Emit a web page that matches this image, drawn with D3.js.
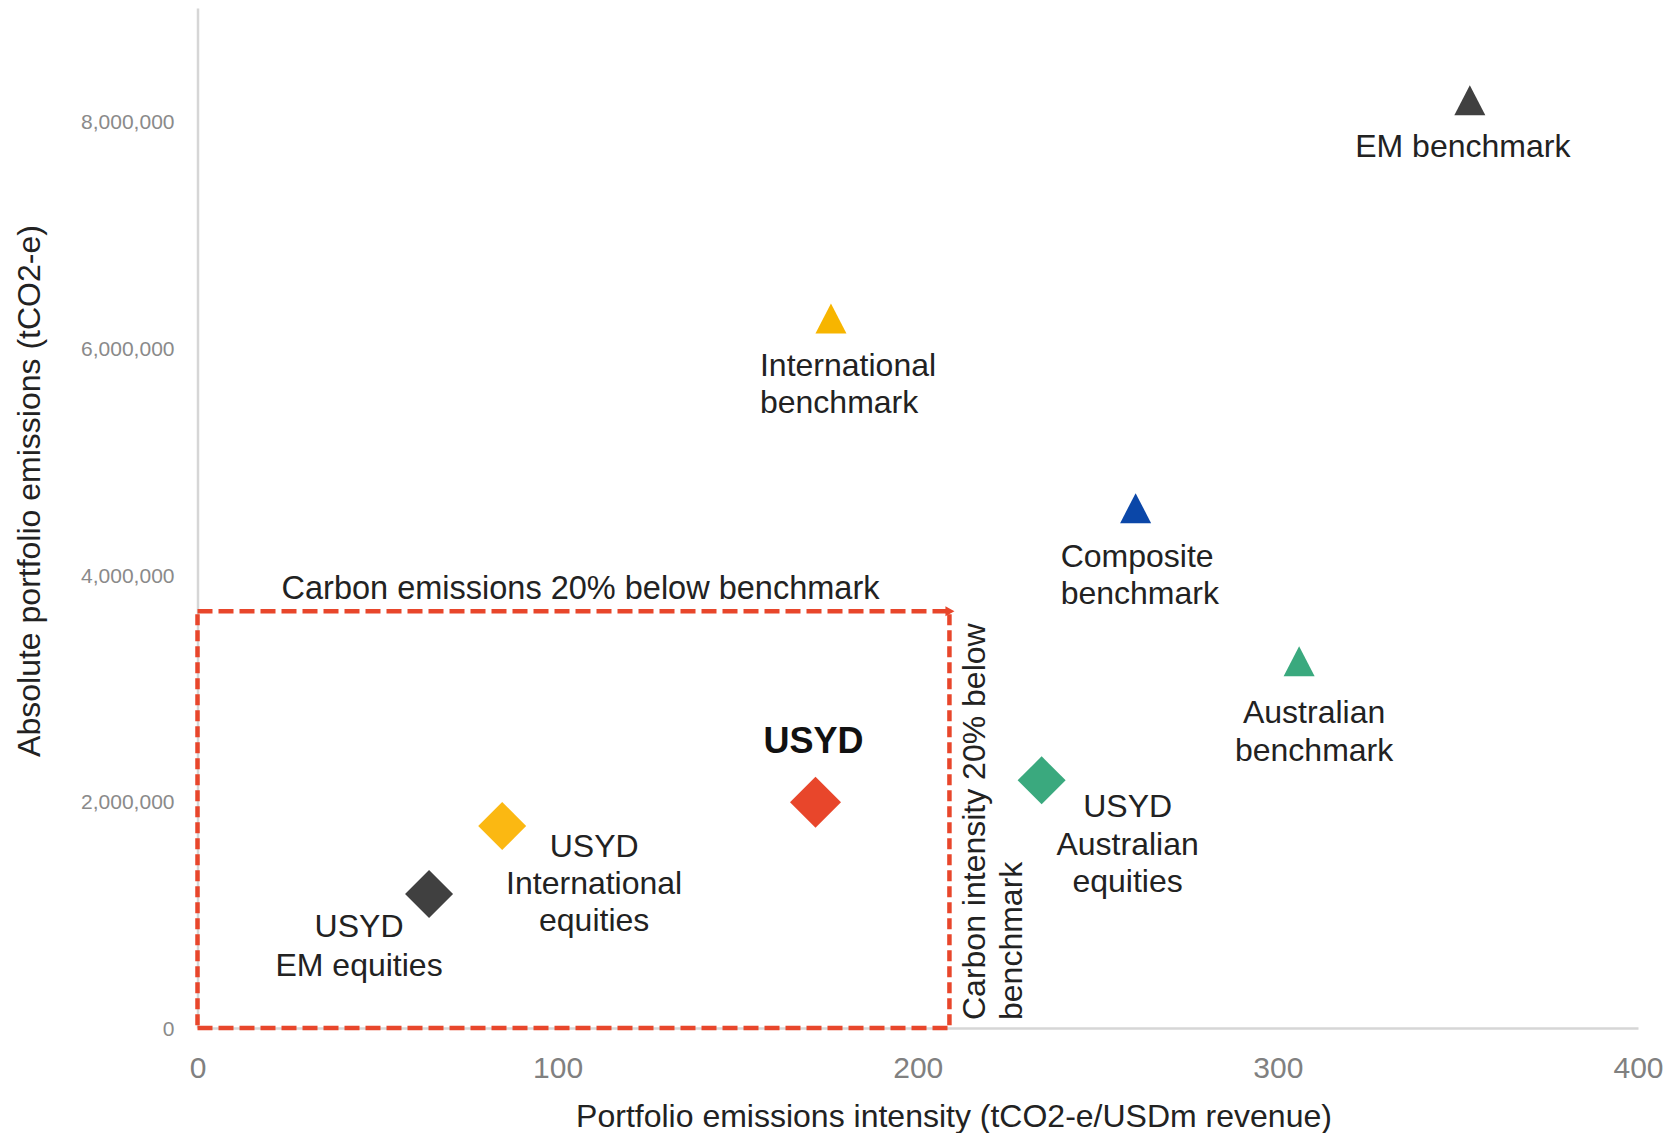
<!DOCTYPE html>
<html>
<head>
<meta charset="utf-8">
<script src="https://cdn.jsdelivr.net/npm/d3@7/dist/d3.min.js"></script>
<style>
  html, body { margin: 0; padding: 0; background: #ffffff; }
  svg { display: block; font-family: "Liberation Sans", Arial, Helvetica, sans-serif; }
</style>
</head>
<body>
<svg id="chart" width="1669" height="1133"></svg>
<script>
// ---------------- DATA ----------------
const categories = [
  "EM benchmark",
  "International benchmark",
  "Composite benchmark",
  "Australian benchmark",
  "USYD Australian equities",
  "USYD",
  "USYD International equities",
  "USYD EM equities"
];
const intensity = [353.3, 175.9, 260.5, 305.9, 234.4, 171.6, 84.6, 64.3];            // tCO2-e/USDm revenue
const emissions = [8185000, 6260000, 4587000, 3237000, 2185000, 1993000, 1782000, 1182000]; // tCO2-e
const seriesKind = ["benchmark", "benchmark", "benchmark", "benchmark", "portfolio", "total", "portfolio", "portfolio"];
const labelLines = [
  ["EM benchmark"],
  ["International", "benchmark"],
  ["Composite", "benchmark"],
  ["Australian", "benchmark"],
  ["USYD", "Australian", "equities"],
  ["USYD"],
  ["USYD", "International", "equities"],
  ["USYD", "EM equities"]
];
const xTicks = [0, 100, 200, 300, 400];
const yTicks = [0, 2000000, 4000000, 6000000, 8000000];
const targetIntensity = 208.8;   // 20% below composite benchmark intensity
const targetEmissions = 3678000; // 20% below composite benchmark emissions
const xTitle = "Portfolio emissions intensity (tCO2-e/USDm revenue)";
const yTitle = "Absolute portfolio emissions (tCO2-e)";
const boxTopLabel = "Carbon emissions 20% below benchmark";
const boxSideLabel = ["Carbon intensity 20% below", "benchmark"];

// ---------------- STYLE / LAYOUT ----------------
const colors = {
  "EM benchmark": "#404040",
  "International benchmark": "#F7B500",
  "Composite benchmark": "#0B47A8",
  "Australian benchmark": "#3AA97E",
  "USYD Australian equities": "#3AA97E",
  "USYD": "#E8462B",
  "USYD International equities": "#FBB812",
  "USYD EM equities": "#404040"
};
// label layout: anchor, dx, dy (first baseline) relative to marker, line height
const labelLayout = {
  "EM benchmark": {anchor: "middle", dx: -7, dy: 57, lh: 36},
  "International benchmark": {anchor: "start", dx: -71, dy: 57, lh: 37},
  "Composite benchmark": {anchor: "start", dx: -75, dy: 59, lh: 37},
  "Australian benchmark": {anchor: "middle", dx: 15, dy: 62, lh: 38},
  "USYD Australian equities": {anchor: "middle", dx: 86, dy: 37, lh: 37.5},
  "USYD": {anchor: "middle", dx: -2, dy: -49, lh: 36},
  "USYD International equities": {anchor: "middle", dx: 92, dy: 31, lh: 37},
  "USYD EM equities": {anchor: "middle", dx: -70, dy: 43, lh: 39}
};

const W = 1669, H = 1133;
const x = d3.scaleLinear().domain([0, 400]).range([197.5, 1638]);
const y = d3.scaleLinear().domain([0, 9000000]).range([1028, 8]);

const svg = d3.select("#chart");
svg.append("rect").attr("width", W).attr("height", H).attr("fill", "#ffffff");

// ---------------- AXES ----------------
const axisColor = "#d6d6d6";
const xAxis = d3.axisBottom(x).tickValues(xTicks).tickSize(0).tickPadding(0).tickFormat(d3.format("d"));
const gx = svg.append("g").attr("transform", `translate(0,${y(0)})`).call(xAxis);
gx.select(".domain").attr("stroke", axisColor).attr("stroke-width", 2.5);
gx.selectAll(".tick text")
  .attr("y", 50).attr("dy", 0)
  .attr("font-size", 30).attr("fill", "#808080")
  .attr("font-family", "Liberation Sans, Arial, sans-serif");

const yAxis = d3.axisLeft(y).tickValues(yTicks).tickSize(0).tickPadding(0).tickFormat(d3.format(","));
const gy = svg.append("g").attr("transform", `translate(${x(0)},0)`).call(yAxis);
gy.select(".domain").attr("stroke", axisColor).attr("stroke-width", 2.5);
gy.selectAll(".tick text")
  .attr("x", -23).attr("dy", "0.36em")
  .attr("font-size", 21).attr("fill", "#8a8a8a")
  .attr("font-family", "Liberation Sans, Arial, sans-serif");

// axis titles
svg.append("text")
  .attr("x", 954).attr("y", 1127)
  .attr("text-anchor", "middle")
  .attr("font-size", 32).attr("fill", "#222")
  .text(xTitle);
svg.append("text")
  .attr("transform", `translate(40,491) rotate(-90)`)
  .attr("text-anchor", "middle")
  .attr("font-size", 32).attr("fill", "#222")
  .text(yTitle);

// ---------------- TARGET BOX ----------------
const red = "#E8462B";
const bx0 = x(0), bx1 = x(targetIntensity), by0 = y(0), by1 = y(targetEmissions);
const box = svg.append("g").attr("fill", "none").attr("stroke", red).attr("stroke-width", 4.5);
box.append("line").attr("x1", bx0).attr("y1", by1).attr("x2", bx1 - 2).attr("y2", by1).attr("stroke-dasharray", "15,6");
box.append("line").attr("x1", bx0).attr("y1", by0).attr("x2", bx1).attr("y2", by0).attr("stroke-dasharray", "15,6");
box.append("line").attr("x1", bx0).attr("y1", by1 + 3).attr("x2", bx0).attr("y2", by0).attr("stroke-dasharray", "11,5");
box.append("line").attr("x1", bx1).attr("y1", by1 + 3).attr("x2", bx1).attr("y2", by0).attr("stroke-dasharray", "11,5");
svg.append("path")
  .attr("d", `M${bx1 - 4},${by1 - 5} L${bx1 + 5},${by1} L${bx1 - 4},${by1 + 5} Z`)
  .attr("fill", red);

svg.append("text")
  .attr("x", x(0) + 383).attr("y", by1 - 12)
  .attr("text-anchor", "middle")
  .attr("font-size", 32.5).attr("fill", "#222")
  .text(boxTopLabel);

boxSideLabel.forEach((t, i) => {
  svg.append("text")
    .attr("transform", `translate(${bx1 + 36 + i * 37},1020) rotate(-90)`)
    .attr("text-anchor", "start")
    .attr("font-size", 32).attr("fill", "#222")
    .text(t);
});

// ---------------- MARKERS ----------------
const data = categories.map((c, i) => ({
  name: c, ix: intensity[i], em: emissions[i], kind: seriesKind[i], lines: labelLines[i]
}));

function markerPath(kind) {
  if (kind === "benchmark") {
    const w = 31, h = 30;
    return `M0,${-h / 2} L${w / 2},${h / 2} L${-w / 2},${h / 2} Z`;
  }
  const s = kind === "total" ? 25.5 : 24;
  return `M0,${-s} L${s},0 L0,${s} L${-s},0 Z`;
}

const pts = svg.append("g").selectAll("g.pt").data(data).join("g")
  .attr("class", "pt")
  .attr("transform", d => `translate(${x(d.ix)},${y(d.em)})`);

pts.append("path")
  .attr("d", d => markerPath(d.kind))
  .attr("fill", d => colors[d.name]);

pts.each(function(d) {
  const L = labelLayout[d.name];
  const t = d3.select(this).append("text")
    .attr("text-anchor", L.anchor)
    .attr("font-size", d.kind === "total" ? 36 : 32)
    .attr("font-weight", d.kind === "total" ? "bold" : "normal")
    .attr("fill", d.kind === "total" ? "#111" : "#222");
  d.lines.forEach((ln, j) => {
    t.append("tspan").attr("x", L.dx).attr("y", L.dy + j * L.lh).text(ln);
  });
});
</script>
</body>
</html>
